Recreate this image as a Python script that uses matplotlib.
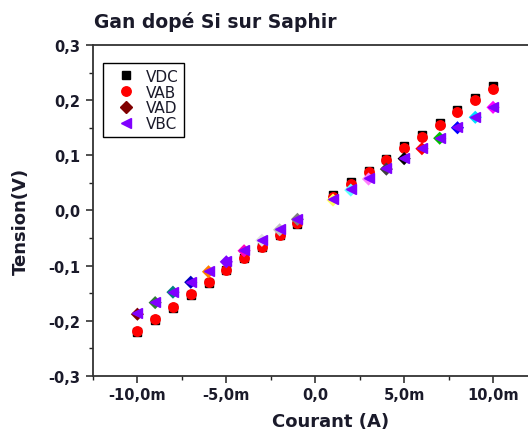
import matplotlib
matplotlib.use("Agg")
import matplotlib.pyplot as plt
from matplotlib.ticker import FixedLocator, FixedFormatter, MultipleLocator

plt.rcParams['font.family'] = ['DejaVu Sans']

# ---- data ----
courant = [-0.010, -0.009, -0.008, -0.007, -0.006, -0.005, -0.004, -0.003, -0.002, -0.001,
           0.001, 0.002, 0.003, 0.004, 0.005, 0.006, 0.007, 0.008, 0.009, 0.010]
vdc = [-0.220, -0.199, -0.177, -0.153, -0.131, -0.108, -0.087, -0.066, -0.044, -0.024,
       0.028, 0.051, 0.072, 0.094, 0.116, 0.137, 0.159, 0.182, 0.203, 0.225]
vab = [-0.218, -0.197, -0.175, -0.151, -0.130, -0.107, -0.086, -0.066, -0.044, -0.023,
       0.025, 0.048, 0.069, 0.091, 0.113, 0.134, 0.155, 0.179, 0.200, 0.221]
vad = [-0.188, -0.167, -0.148, -0.130, -0.111, -0.093, -0.073, -0.054, -0.035, -0.016,
       0.019, 0.037, 0.057, 0.075, 0.094, 0.112, 0.131, 0.150, 0.169, 0.187]
vbc = [-0.186, -0.166, -0.148, -0.129, -0.110, -0.092, -0.072, -0.053, -0.034, -0.015,
       0.021, 0.039, 0.059, 0.077, 0.095, 0.114, 0.132, 0.151, 0.170, 0.188]
series_names = ["VDC", "VAB", "VAD", "VBC"]

x_ticks = [-0.010, -0.005, 0.0, 0.005, 0.010]
x_ticklabels = ["-10,0m", "-5,0m", "0,0", "5,0m", "10,0m"]
y_ticks = [-0.3, -0.2, -0.1, 0.0, 0.1, 0.2, 0.3]
y_ticklabels = ["-0,3", "-0,2", "-0,1", "0,0", "0,1", "0,2", "0,3"]
title = "Gan dopé Si sur Saphir"
xlabel = "Courant (A)"
ylabel = "Tension(V)"

# per-point colours of the VAD diamonds (Origin colour increment)
vad_colors = ["#800000", "#2E7D32", "#008080", "#0000C0", "#FF8000", "#8000FF", "#FF00C0",
              "#E0E0E0", "#C0C0C0", "#808080", "#FFFF60", "#60FFFF", "#FF80FF", "#404040",
              "#000000", "#FF0000", "#00C000", "#0000FF", "#00E0FF", "#FF00FF"]

TXT = '#1a1a2a'

fig = plt.figure(figsize=(5.28, 4.35), dpi=100)
ax = fig.add_axes([0.176, 0.1333, 0.842, 0.761])

ax.plot(courant, vdc, linestyle='none', marker='s', markersize=6, color='black',
        label=series_names[0], zorder=3)
ax.plot(courant, vab, linestyle='none', marker='o', markersize=6.8, color='#FF0000',
        label=series_names[1], zorder=4)
ax.scatter(courant, vad, marker='D', s=45, c=vad_colors, zorder=5, linewidths=0)
ax.plot([], [], linestyle='none', marker='D', markersize=6.5, color=vad_colors[0],
        label=series_names[2])
ax.plot(courant, vbc, linestyle='none', marker='<', markersize=7, color='#8000FF',
        label=series_names[3], zorder=6)

ax.set_xlim(-0.0125, 0.0125)
ax.set_ylim(-0.3, 0.3)

ax.xaxis.set_major_locator(FixedLocator(x_ticks))
ax.xaxis.set_major_formatter(FixedFormatter(x_ticklabels))
ax.xaxis.set_minor_locator(MultipleLocator(0.0025))
ax.yaxis.set_major_locator(FixedLocator(y_ticks))
ax.yaxis.set_major_formatter(FixedFormatter(y_ticklabels))
ax.yaxis.set_minor_locator(MultipleLocator(0.05))

ax.tick_params(which='major', direction='out', length=5, width=1.1, color='#222222',
               labelsize=10.5, top=False, right=False)
ax.tick_params(axis='x', which='major', pad=3)
ax.tick_params(axis='y', which='major', pad=4)
ax.tick_params(which='minor', direction='out', length=3, width=1.0, color='#222222',
               top=False, right=False)
for lbl in ax.get_xticklabels() + ax.get_yticklabels():
    lbl.set_fontweight('bold')
    lbl.set_color(TXT)

for sp in ax.spines.values():
    sp.set_linewidth(1.3)
    sp.set_color('#333333')

ax.text(0.535, -0.151, xlabel, transform=ax.transAxes, fontsize=13, fontweight='bold',
        color=TXT, ha='center', va='baseline')
ax.text(-0.163, 0.47, ylabel, transform=ax.transAxes, fontsize=13, fontweight='bold',
        color=TXT, ha='center', va='center', rotation=90)
fig.text(0.178, 1 - 28 / 435, title, fontsize=13.5, fontweight='bold', color=TXT,
         ha='left', va='baseline')

leg = ax.legend(loc='upper left', bbox_to_anchor=(0.023, 0.945), fontsize=11,
                frameon=True, fancybox=False, edgecolor='black', framealpha=1,
                borderpad=0.37, labelspacing=0.05, handlelength=2.2, handletextpad=0.2,
                borderaxespad=0.0)
leg.get_frame().set_linewidth(1.0)
for t in leg.get_texts():
    t.set_color(TXT)

fig.savefig("out.png", dpi=100)
